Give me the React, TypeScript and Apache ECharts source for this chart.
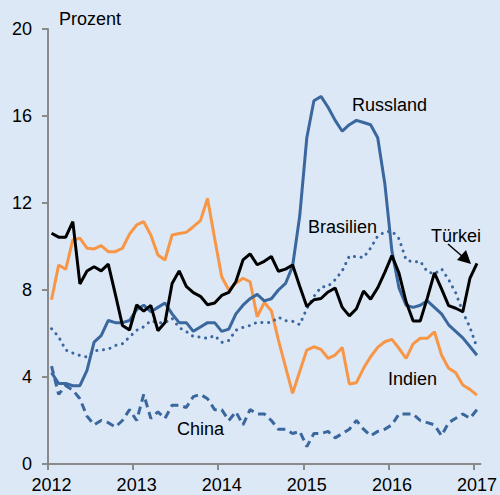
import React, { useEffect, useRef } from "react";
import * as echarts from "echarts";

const START_YEAR = 2012;
const yearTicks = [2012, 2013, 2014, 2015, 2016, 2017];

// Monthly values, Jan 2012 – Jan 2017 (percent)
const russland = [
  4.2, 3.7, 3.7, 3.6, 3.6, 4.3, 5.6, 5.9, 6.6, 6.5, 6.5, 6.6,
  7.1, 7.3, 7.0, 7.2, 7.4, 6.9, 6.5, 6.5, 6.1, 6.3, 6.5, 6.5,
  6.1, 6.2, 6.9, 7.3, 7.6, 7.8, 7.5, 7.6, 8.0, 8.3, 9.1, 11.4,
  15.0, 16.7, 16.9, 16.4, 15.8, 15.3, 15.6, 15.8, 15.7, 15.6, 15.0, 12.9,
  9.8, 8.1, 7.3, 7.2, 7.3, 7.5, 7.2, 6.9, 6.4, 6.1, 5.8, 5.4,
  5.0,
];
const brasilien = [
  6.22, 5.85, 5.24, 5.1, 4.99, 4.92, 5.2, 5.24, 5.28, 5.45, 5.53, 5.84,
  6.15, 6.31, 6.59, 6.49, 6.5, 6.7, 6.27, 6.09, 5.86, 5.84, 5.77, 5.91,
  5.59, 5.68, 6.15, 6.28, 6.37, 6.52, 6.5, 6.51, 6.75, 6.59, 6.56, 6.41,
  7.14, 7.7, 8.13, 8.17, 8.47, 8.89, 9.56, 9.53, 9.49, 9.93, 10.48, 10.67,
  10.71, 10.36, 9.39, 9.28, 9.32, 8.84, 8.74, 8.97, 8.48, 7.87, 6.99, 6.29,
  5.35,
];
const tuerkei = [
  10.61, 10.43, 10.43, 11.14, 8.28, 8.87, 9.07, 8.88, 9.19, 7.8, 6.37, 6.16,
  7.31, 7.03, 7.29, 6.13, 6.51, 8.3, 8.88, 8.17, 7.88, 7.71, 7.32, 7.4,
  7.75, 7.89, 8.39, 9.38, 9.66, 9.16, 9.32, 9.54, 8.86, 8.96, 9.15, 8.17,
  7.24, 7.55, 7.61, 7.91, 8.09, 7.2, 6.81, 7.14, 7.95, 7.58, 8.1, 8.81,
  9.58, 8.78, 7.46, 6.57, 6.58, 7.64, 8.79, 8.05, 7.28, 7.16, 7.0, 8.53,
  9.22,
];
const indien = [
  7.55, 9.15, 8.95, 10.3, 10.38, 9.92, 9.89, 10.04, 9.76, 9.76, 9.92, 10.57,
  10.99, 11.14, 10.53, 9.61, 9.38, 10.53, 10.6, 10.65, 10.91, 11.19, 12.21, 10.38,
  8.61, 8.0, 8.31, 8.54, 8.38, 6.77, 7.42, 7.05, 5.7, 4.47, 3.25, 4.25,
  5.24, 5.39, 5.27, 4.86, 5.01, 5.36, 3.68, 3.74, 4.4, 4.93, 5.36, 5.62,
  5.73, 5.32, 4.86, 5.52, 5.78, 5.78, 6.08, 5.01, 4.4, 4.2, 3.63, 3.43,
  3.17,
];
const china = [
  4.5, 3.2, 3.6, 3.4, 3.0, 2.2, 1.8, 2.0, 1.9, 1.7, 2.0, 2.5,
  2.0, 3.2, 2.1, 2.4, 2.1, 2.7, 2.7, 2.6, 3.1, 3.2, 3.0, 2.5,
  2.5, 2.0, 2.4, 1.8, 2.5, 2.3, 2.3, 2.0, 1.6, 1.6, 1.4, 1.5,
  0.8, 1.4, 1.4, 1.5, 1.2, 1.4, 1.6, 2.0, 1.6, 1.3, 1.5, 1.6,
  1.8, 2.3, 2.3, 2.3, 2.0, 1.9, 1.8, 1.3, 1.9, 2.1, 2.3, 2.1,
  2.5,
];

const FONT = '"Liberation Sans", Arial, Helvetica, sans-serif';
const BLUE = "#3a679d";
const ORANGE = "#f79646";
const AXIS = "#8a8a8a";
const BG = "#dce8f6";

export default function App() {
  const ref = useRef<HTMLDivElement>(null);

  useEffect(() => {
    document.body.style.margin = "0";
    const chart = echarts.init(ref.current!, null, { renderer: "svg" });
    const toPoints = (arr: number[]) =>
      arr.map((v, i) => [START_YEAR + (i + 0.5) / 12, v]);

    const label = (text: string, x: number, y: number) => ({
      type: "text",
      x,
      y,
      style: {
        text,
        fontSize: 18,
        fontFamily: FONT,
        fill: "#000",
        verticalAlign: "middle",
        align: "left",
      },
      z: 100,
    });

    chart.setOption({
      animation: false,
      backgroundColor: BG,
      grid: { left: 48, right: 18, top: 29, bottom: 31 },
      xAxis: {
        type: "value",
        min: START_YEAR,
        max: 2017 + 1 / 12,
        axisLine: { show: true, onZero: false, lineStyle: { color: AXIS, width: 2 } },
        axisTick: {
          show: true,
          customValues: yearTicks,
          length: 6,
          inside: false,
          lineStyle: { color: AXIS, width: 2 },
        },
        axisLabel: {
          customValues: yearTicks.map((y) => y + 0.5 / 12),
          formatter: (v: number) => String(Math.floor(v)),
          fontSize: 18,
          fontFamily: FONT,
          color: "#000",
          margin: 12,
        },
        splitLine: { show: false },
      },
      yAxis: {
        type: "value",
        min: 0,
        max: 20,
        interval: 4,
        axisLine: { show: true, lineStyle: { color: AXIS, width: 2 } },
        axisTick: { show: true, length: 6, lineStyle: { color: AXIS, width: 2 } },
        axisLabel: {
          fontSize: 18,
          fontFamily: FONT,
          color: "#000",
          margin: 16,
        },
        splitLine: { show: false },
      },
      series: [
        {
          name: "China",
          type: "line",
          data: toPoints(china),
          symbol: "none",
          lineStyle: { color: BLUE, width: 3, type: [8, 5] },
          z: 2,
        },
        {
          name: "Indien",
          type: "line",
          data: toPoints(indien),
          symbol: "none",
          lineStyle: { color: ORANGE, width: 3 },
          z: 3,
        },
        {
          name: "Brasilien",
          type: "line",
          data: toPoints(brasilien),
          symbol: "none",
          lineStyle: { color: BLUE, width: 3, type: [0.1, 6.6], cap: "round" },
          z: 4,
        },
        {
          name: "Russland",
          type: "line",
          data: toPoints(russland),
          symbol: "none",
          lineStyle: { color: BLUE, width: 3 },
          z: 5,
        },
        {
          name: "Türkei",
          type: "line",
          data: toPoints(tuerkei),
          symbol: "none",
          lineStyle: { color: "#000", width: 3 },
          z: 6,
        },
      ],
      graphic: [
        label("Prozent", 59, 19),
        label("Russland", 352, 105),
        label("Brasilien", 308, 227),
        label("Türkei", 431, 236),
        label("Indien", 388, 379),
        label("China", 177, 429),
        {
          type: "line",
          shape: { x1: 448, y1: 244, x2: 463, y2: 257 },
          style: { stroke: "#000", lineWidth: 1.5 },
          z: 100,
        },
        {
          type: "polygon",
          shape: { points: [[471, 264], [457, 260], [466, 250]] },
          style: { fill: "#000" },
          z: 100,
        },
      ],
    });
    return () => chart.dispose();
  }, []);

  return (
    <div
      ref={ref}
      style={{ position: "absolute", left: 0, top: 0, width: 500, height: 495, background: BG }}
    />
  );
}
